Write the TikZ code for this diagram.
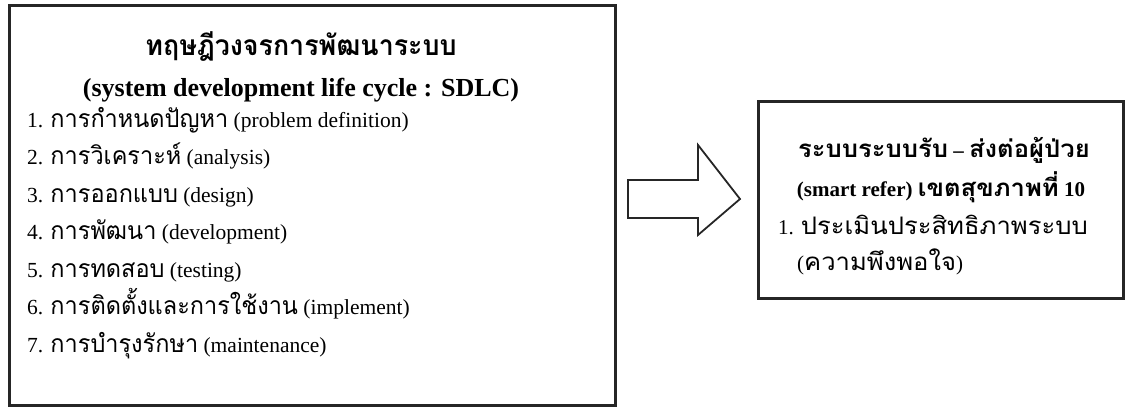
\documentclass[tikz,border=0pt]{standalone}
\usepackage{fontspec}
\setmainfont{Liberation Serif}
\newfontfamily\thaifont[Script=Thai,Scale=1.15,FakeStretch=0.95]{Loma}
\newfontfamily\thaiwide[Script=Thai,Scale=1.15,FakeStretch=1.06]{Loma}
\newcommand{\T}[1]{{\thaifont #1}}
\newcommand{\TW}[1]{{\thaiwide #1}}
\begin{document}
\begin{tikzpicture}[x=1pt,y=-1pt,
  frame/.style={draw=black!85,line width=2.6pt},
  txt/.style={inner sep=0pt,font=\fontsize{21.5}{24}\selectfont},
  rtxt/.style={inner sep=0pt,font=\fontsize{21}{24}\selectfont},
  head/.style={inner sep=0pt,font=\fontsize{26}{28}\selectfont\bfseries},
  thead/.style={inner sep=0pt,font=\fontsize{24.5}{28}\selectfont\bfseries},
  rhead/.style={inner sep=0pt,font=\fontsize{21}{24}\selectfont\bfseries},
  blockarrow/.style={draw=black!85,line width=1.8pt,line join=miter,fill=white}]
\useasboundingbox (0,0) rectangle (1130,407);
% left frame: the SDLC phases
\node[frame,minimum width=606pt,minimum height=400pt,anchor=north west] (sdlc) at (8,4) {};
\node[thead,anchor=base] (t1) at (301,55) {\T{ทฤษฎีวงจรการพัฒนาระบบ}};
\node[head,anchor=base] (t2) at (301,96) {(system development life cycle : SDLC)};
\node[txt,anchor=base west] (s1) at (27,127) {1. \T{การกำหนดปัญหา} (problem definition)};
\node[txt,anchor=base west] (s2) at (27,164.5) {2. \T{การวิเคราะห์} (analysis)};
\node[txt,anchor=base west] (s3) at (27,202) {3. \T{การออกแบบ} (design)};
\node[txt,anchor=base west] (s4) at (27,239.5) {4. \T{การพัฒนา} (development)};
\node[txt,anchor=base west] (s5) at (27,277) {5. \T{การทดสอบ} (testing)};
\node[txt,anchor=base west] (s6) at (27,314.5) {6. \T{การติดตั้งและการใช้งาน} (implement)};
\node[txt,anchor=base west] (s7) at (27,352) {7. \T{การบำรุงรักษา} (maintenance)};
% right frame: smart refer evaluation
\node[frame,minimum width=365pt,minimum height=197pt,anchor=north west] (refer) at (757,100) {};
\node[rhead,anchor=base] (r1) at (944,157) {\TW{ระบบระบบรับ} – \TW{ส่งต่อผู้ป่วย}};
\node[rhead,anchor=base] (r2) at (941,196) {(smart refer) \TW{เขตสุขภาพที่} 10};
\node[rtxt,anchor=base west] (r3) at (778,234) {1. \TW{ประเมินประสิทธิภาพระบบ}};
\node[rtxt,anchor=base west] (r4) at (797,270) {(\TW{ความพึงพอใจ})};
% block arrow between the frames
\coordinate (a0) at (628,199);
\draw[blockarrow] (a0) ++(0,-19) -- ++(70,0) -- ++(0,-35) -- (740,199)
  -- (698,235) -- ++(0,-17) -- ++(-70,0) -- cycle;
\end{tikzpicture}
\end{document}
